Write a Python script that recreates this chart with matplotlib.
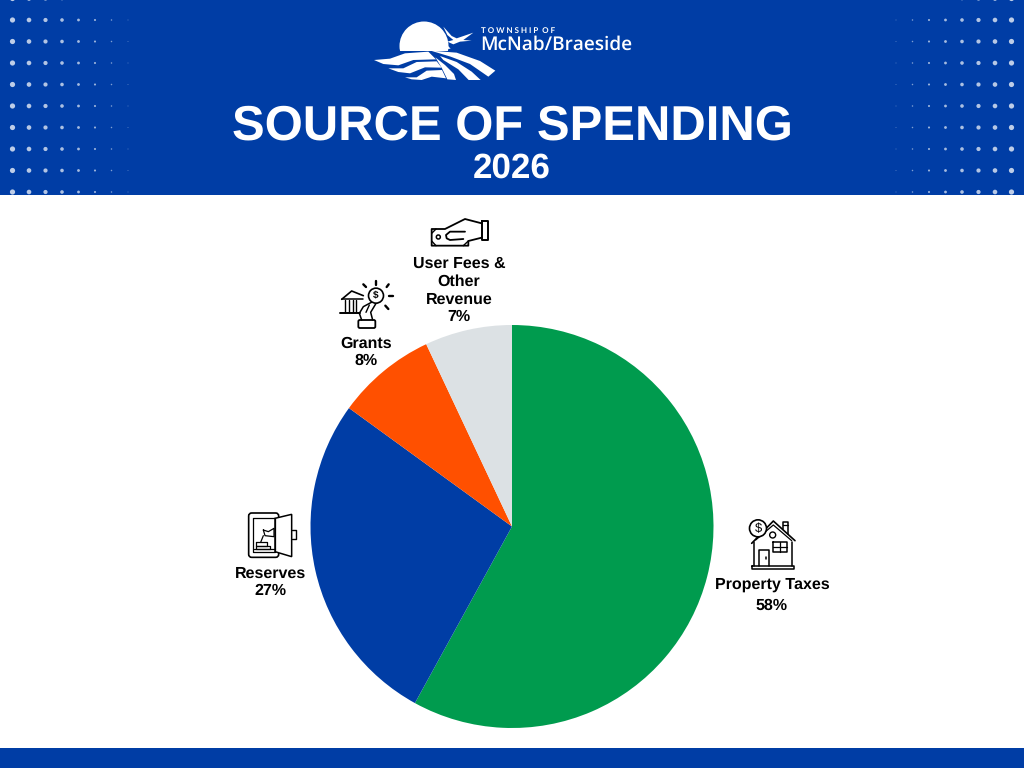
import matplotlib
matplotlib.use("Agg")
import matplotlib.pyplot as plt
from matplotlib.patches import Circle, Polygon, Rectangle, FancyBboxPatch

BLUE = "#003DA5"
categories = ["Property Taxes", "Reserves", "Grants", "User Fees & Other Revenue"]
shares = [58, 27, 8, 7]
colors = ["#009B4E", "#003DA5", "#FF5000", "#DCE1E4"]

title = "SOURCE OF SPENDING"
year = "2026"

plt.rcParams['font.family'] = ['Liberation Sans', 'DejaVu Sans']
plt.rcParams['text.hinting'] = 'no_hinting'
plt.rcParams['text.hinting_factor'] = 1

fig = plt.figure(figsize=(10.24, 7.68), dpi=100, facecolor="white")

# page overlay in pixel coordinates, for the banner, logo and icons
ax = fig.add_axes([0, 0, 1, 1])
ax.set_xlim(0, 1024)
ax.set_ylim(768, 0)
ax.axis("off")

ax.add_patch(Rectangle((0, 0), 1024, 195, color=BLUE, lw=0))
ax.add_patch(Rectangle((0, 748), 1024, 20, color=BLUE, lw=0))

# dot pattern in the banner corners
dot_sizes = [2.6, 2.3, 2.1, 1.8, 1.4, 1.05, 0.75, 0.5]
dot_alpha = [0.75, 0.72, 0.7, 0.68, 0.65, 0.6, 0.5, 0.35]
for row in range(-1, 9):
    y = 20 + row * 21.5
    for i in range(8):
        for x in (12.5 + i * 16.5, 1011.5 - i * 16.5):
            ax.add_patch(Circle((x, y), dot_sizes[i], color="white", alpha=dot_alpha[i], lw=0))


def logo_shape(pts):
    ax.add_patch(Polygon([(360 + x / 3, y / 3) for x, y in pts], closed=True, color="white", lw=0, joinstyle="round"))


# logo
ax.add_patch(Circle((424, 46), 24.5, color="white", lw=0))
ax.add_patch(Rectangle((395, 51), 60, 25, color=BLUE, lw=0))
ax.add_patch(Polygon([(449, 33), (452, 50), (470, 50), (470, 30)], color=BLUE, lw=0))
logo_shape([(125, 150), (165, 142), (215, 145), (262, 136), (272, 146), (215, 152), (165, 152)])
logo_shape([(42, 180), (90, 176), (135, 160), (205, 155), (228, 178), (160, 180), (115, 196), (70, 192)])
logo_shape([(85, 205), (130, 205), (170, 186), (230, 184), (245, 203), (195, 202), (150, 220), (115, 216)])
logo_shape([(135, 232), (170, 232), (200, 212), (246, 210), (258, 235), (215, 230), (185, 240), (155, 238)])
logo_shape([(212, 152), (290, 158), (360, 183), (406, 212), (385, 230), (330, 192), (272, 170)])
logo_shape([(240, 168), (290, 186), (335, 215), (362, 240), (326, 240), (295, 208), (250, 180)])
logo_shape([(226, 172), (255, 195), (282, 222), (288, 240), (262, 238), (245, 203)])
logo_shape([(250, 80), (275, 108), (290, 115), (340, 98), (310, 120), (335, 122), (300, 125), (280, 133), (262, 125), (280, 120), (262, 105)])
ax.text(481, 30.5, "T O W N S H I P  O F", color="white", fontsize=5.8, fontfamily="Lato", fontweight="bold", ha="left", va="center")
ax.text(480, 44.5, "McNab/Braeside", color="white", fontsize=13.8, fontfamily="Open Sans", fontweight="semibold", ha="left", va="center")

ax.text(512, 127, title, color="white", fontsize=35.5, fontweight="bold", ha="center", va="center")
ax.text(512, 169, year, color="white", fontsize=25.4, fontweight="bold", ha="center", va="center")

# pie
pie_ax = fig.add_axes([(512 - 201.5) / 1024, (768 - 728) / 768, 403 / 1024, 403 / 768])
pie_ax.pie(shares, colors=colors, startangle=90, counterclock=False, radius=1)
pie_ax.set_xlim(-1, 1)
pie_ax.set_ylim(-1, 1)

# labels
label_lines = [["Property Taxes"], ["Reserves"], ["Grants"], ["User Fees &", "Other", "Revenue"]]
label_x = [772, 270.5, 366.5, 459]
label_y = [[584.5, 605.5], [573.5, 590.5], [343.5, 360.5], [263.5, 281.5, 299.5, 316.5]]
for name, v, x, ys in zip(label_lines, shares, label_x, label_y):
    for txt, y in zip(name + [f"{v}%"], ys):
        ax.text(x, y, txt, color="black", fontsize=11.6, fontweight="bold", ha="center", va="center")


def icon_line(ox, oy, pts, lw=1.1, closed=False):
    pts = list(pts) + ([pts[0]] if closed else [])
    ax.plot([ox + p[0] / 3 for p in pts], [oy + p[1] / 3 for p in pts], color="black", lw=lw, solid_capstyle="round", solid_joinstyle="round")


# user fees icon
o = (330, 205)
icon_line(*o, [(455, 48), (473, 48), (473, 106), (455, 106)], closed=True, lw=1.4)
icon_line(*o, [(455, 55), (405, 42), (345, 72), (305, 72), (305, 122), (415, 122), (415, 108), (455, 98)], lw=1.3)
icon_line(*o, [(405, 80), (360, 80), (348, 90), (350, 100), (360, 105), (400, 102)], lw=1.3)
icon_line(*o, [(305, 85), (318, 72)], lw=1.0)
icon_line(*o, [(305, 108), (318, 122)], lw=1.0)
icon_line(*o, [(400, 122), (415, 108)], lw=1.0)
ax.add_patch(Circle((o[0] + 325 / 3, o[1] + 96 / 3), 2, fill=False, ec="black", lw=1.1))

# grants icon
icon_line(*o, [(35, 283), (65, 258), (100, 272)], lw=1.2)
icon_line(*o, [(35, 283), (100, 283)], lw=1.1)
icon_line(*o, [(30, 325), (90, 325)], lw=1.4)
for x in (46, 56, 68, 78):
    icon_line(*o, [(x, 286), (x, 322)], lw=1.0)
ax.add_patch(Circle((o[0] + 138 / 3, o[1] + 272 / 3), 7.5, fc="white", ec="black", lw=1.2, zorder=3))
ax.text(o[0] + 138 / 3, o[1] + 272 / 3, "$", fontsize=7.5, fontweight="bold", ha="center", va="center", color="black", zorder=4)
icon_line(*o, [(128, 290), (100, 305), (88, 325), (95, 345)], lw=1.1)
icon_line(*o, [(140, 292), (122, 322), (128, 345)], lw=1.1)
icon_line(*o, [(118, 300), (108, 322)], lw=1.0)
ax.add_patch(FancyBboxPatch((o[0] + 85 / 3, o[1] + 345 / 3), 17, 8, boxstyle="round,pad=0,rounding_size=1.5", fill=False, ec="black", lw=1.3))
for p, q in [((138, 240), (138, 228)), ((170, 246), (176, 238)), ((178, 273), (190, 273)), ((166, 302), (175, 312)), ((108, 246), (100, 238))]:
    icon_line(*o, [q, p], lw=1.7)

# reserves safe icon
o = (230, 505)
ax.add_patch(FancyBboxPatch((o[0] + 56 / 3, o[1] + 24 / 3), 90 / 3, 133 / 3, boxstyle="round,pad=0,rounding_size=3", fill=False, ec="black", lw=1.2))
icon_line(*o, [(68, 40), (135, 40), (135, 140), (68, 140)], closed=True, lw=0.9)
ax.add_patch(Polygon([(o[0] + x / 3, o[1] + y / 3) for x, y in [(135, 40), (185, 28), (185, 155), (135, 140)]], closed=True, fc="white", ec="black", lw=1.1))
icon_line(*o, [(185, 75), (198, 75), (198, 102), (185, 102)], lw=1.0)
icon_line(*o, [(100, 75), (115, 80), (132, 70), (132, 95), (105, 92), (100, 75)], lw=0.9)
icon_line(*o, [(100, 92), (92, 112)], lw=0.9)
icon_line(*o, [(78, 112), (110, 112), (110, 122), (78, 122)], closed=True, lw=0.9)
icon_line(*o, [(78, 122), (120, 122), (120, 132), (78, 132)], closed=True, lw=0.9)
icon_line(*o, [(72, 132), (135, 132)], lw=0.9)

# property taxes house icon
o = (735, 510)
icon_line(*o, [(50, 100), (115, 33), (180, 92)], lw=1.2)
icon_line(*o, [(62, 90), (115, 45), (170, 92)], lw=0.9)
icon_line(*o, [(58, 95), (58, 168)], lw=1.1)
icon_line(*o, [(172, 95), (172, 168)], lw=1.1)
icon_line(*o, [(52, 168), (178, 168), (178, 178), (52, 178)], closed=True, lw=1.1)
icon_line(*o, [(143, 58), (143, 35), (160, 35), (160, 72)], lw=1.1)
icon_line(*o, [(143, 44), (160, 44)], lw=0.9)
icon_line(*o, [(72, 168), (72, 120), (102, 120), (102, 168)], lw=1.1)
icon_line(*o, [(94, 142), (94, 148)], lw=1.1)
icon_line(*o, [(113, 97), (155, 97), (155, 125), (113, 125)], closed=True, lw=1.1)
icon_line(*o, [(134, 97), (134, 125)], lw=0.9)
icon_line(*o, [(113, 111), (155, 111)], lw=0.9)
ax.add_patch(Circle((o[0] + 113 / 3, o[1] + 75 / 3), 3, fill=False, ec="black", lw=1.0))
ax.add_patch(Circle((o[0] + 69 / 3, o[1] + 55 / 3), 8.5, fc="white", ec="black", lw=1.2, zorder=3))
ax.text(o[0] + 69 / 3, o[1] + 55 / 3, "$", fontsize=9, ha="center", va="center", color="black", zorder=4)

fig.savefig("out.png", dpi=100, facecolor="white")
